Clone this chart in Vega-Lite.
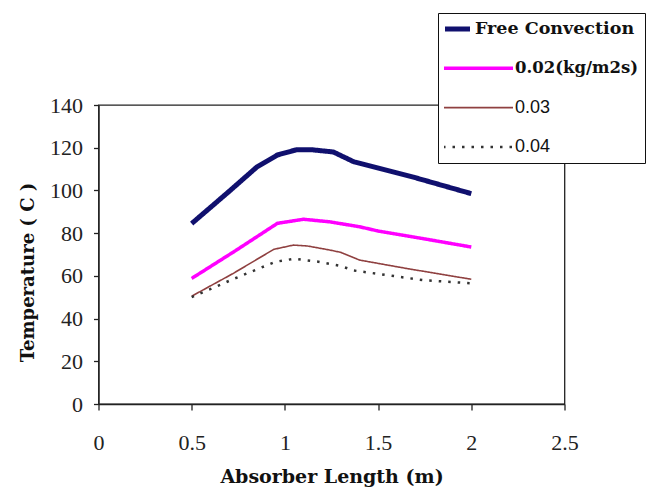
{
  "$schema": "https://vega.github.io/schema/vega-lite/v6.json",
  "width": 466,
  "height": 299,
  "autosize": "none",
  "padding": {"left": 98.5, "top": 105, "right": 85.5, "bottom": 85},
  "background": "white",
  "config": {
    "view": {"stroke": "#222", "strokeWidth": 1.3},
    "axis": {
      "grid": false,
      "domainColor": "#222",
      "domainWidth": 1.3,
      "tickColor": "#222",
      "tickWidth": 1.3,
      "labelFont": "Liberation Serif, Times New Roman, serif",
      "labelFontSize": 22,
      "labelColor": "#222",
      "titleFont": "DejaVu Serif",
      "titleFontWeight": "bold",
      "titleColor": "#111"
    }
  },
  "data": {
    "values": [
      {"series": "Free Convection", "length": 0.5, "temp": 84.5},
      {"series": "Free Convection", "length": 0.7, "temp": 99.5},
      {"series": "Free Convection", "length": 0.85, "temp": 111},
      {"series": "Free Convection", "length": 0.96, "temp": 116.6},
      {"series": "Free Convection", "length": 1.06, "temp": 119},
      {"series": "Free Convection", "length": 1.15, "temp": 119},
      {"series": "Free Convection", "length": 1.26, "temp": 118},
      {"series": "Free Convection", "length": 1.37, "temp": 113.4},
      {"series": "Free Convection", "length": 1.69, "temp": 106.2},
      {"series": "Free Convection", "length": 2.0, "temp": 98.5},
      {"series": "0.02(kg/m2s)", "length": 0.5, "temp": 58.8},
      {"series": "0.02(kg/m2s)", "length": 0.73, "temp": 71.5},
      {"series": "0.02(kg/m2s)", "length": 0.96, "temp": 84.6},
      {"series": "0.02(kg/m2s)", "length": 1.1, "temp": 86.5},
      {"series": "0.02(kg/m2s)", "length": 1.24, "temp": 85.3},
      {"series": "0.02(kg/m2s)", "length": 1.4, "temp": 83},
      {"series": "0.02(kg/m2s)", "length": 1.5, "temp": 81},
      {"series": "0.02(kg/m2s)", "length": 1.75, "temp": 77.3},
      {"series": "0.02(kg/m2s)", "length": 2.0, "temp": 73.5},
      {"series": "0.03", "length": 0.5, "temp": 50.5},
      {"series": "0.03", "length": 0.72, "temp": 61},
      {"series": "0.03", "length": 0.94, "temp": 72.4},
      {"series": "0.03", "length": 1.045, "temp": 74.4},
      {"series": "0.03", "length": 1.12, "temp": 74},
      {"series": "0.03", "length": 1.24, "temp": 72.1},
      {"series": "0.03", "length": 1.3, "temp": 71},
      {"series": "0.03", "length": 1.4, "temp": 67.4},
      {"series": "0.03", "length": 1.65, "temp": 63.5},
      {"series": "0.03", "length": 2.0, "temp": 58.4},
      {"series": "0.04", "length": 0.5, "temp": 50},
      {"series": "0.04", "length": 0.72, "temp": 58.4},
      {"series": "0.04", "length": 0.95, "temp": 66.6},
      {"series": "0.04", "length": 1.05, "temp": 68},
      {"series": "0.04", "length": 1.18, "temp": 66.6},
      {"series": "0.04", "length": 1.3, "temp": 64.6},
      {"series": "0.04", "length": 1.37, "temp": 62.5},
      {"series": "0.04", "length": 1.47, "temp": 61.3},
      {"series": "0.04", "length": 1.74, "temp": 58},
      {"series": "0.04", "length": 2.0, "temp": 56.5}
    ]
  },
  "mark": {"type": "line", "strokeCap": "butt", "strokeJoin": "round"},
  "encoding": {
    "x": {
      "field": "length",
      "type": "quantitative",
      "scale": {"domain": [0, 2.5], "nice": false},
      "axis": {
        "values": [0, 0.5, 1, 1.5, 2, 2.5],
        "format": "~g",
        "title": "Absorber Length (m)",
        "titleFontSize": 19,
        "labelFlush": false,
        "tickSize": 6,
        "labelPadding": 22,
        "titleY": 78,
        "titleBaseline": "alphabetic"
      }
    },
    "y": {
      "field": "temp",
      "type": "quantitative",
      "scale": {"domain": [0, 140], "nice": false},
      "axis": {
        "values": [0, 20, 40, 60, 80, 100, 120, 140],
        "title": "Temperature ( C )",
        "titleFontSize": 18,
        "tickSize": 5,
        "labelPadding": 11,
        "titleX": -65.5,
        "titleY": 167,
        "titleBaseline": "alphabetic"
      }
    },
    "color": {
      "field": "series",
      "type": "nominal",
      "scale": {
        "domain": ["Free Convection", "0.02(kg/m2s)", "0.03", "0.04"],
        "range": ["#10106e", "#ff00ff", "#8f4040", "#333333"]
      },
      "legend": {
        "title": null,
        "orient": "none",
        "legendX": 339.5,
        "legendY": -92,
        "direction": "vertical",
        "symbolType": "stroke",
        "clipHeight": 20,
        "rowPadding": 19.3,
        "padding": 6,
        "strokeColor": "#111",
        "fillColor": "white",
        "labelFont": "DejaVu Serif",
        "labelFontSize": 17,
        "labelColor": "#111",
        "labelLimit": 300,
        "encode": {
          "symbols": {
            "update": {
              "size": {"signal": "datum.label === 'Free Convection' ? 625 : 4900"},
              "x": {"signal": "datum.label === 'Free Convection' ? 13.5 : 34"},
              "strokeWidth": {"signal": "datum.label === 'Free Convection' ? 5 : (datum.label === '0.02(kg/m2s)' ? 3.5 : (datum.label === '0.03' ? 1.6 : 2.5))"},
              "strokeDash": {"signal": "datum.label === '0.04' ? [2.5, 7] : [1, 0]"},
              "opacity": {"value": 1}
            }
          },
          "labels": {
            "update": {
              "x": {"signal": "datum.label === 'Free Convection' ? 31 : 71"},
              "font": {"signal": "(datum.label === '0.03' || datum.label === '0.04') ? 'Liberation Sans, Arial, sans-serif' : 'DejaVu Serif'"},
              "fontWeight": {"signal": "(datum.label === '0.03' || datum.label === '0.04') ? 'normal' : 'bold'"},
              "fontSize": {"signal": "datum.label === '0.02(kg/m2s)' ? 16.5 : (datum.label === 'Free Convection' ? 17.5 : 18)"}
            }
          }
        }
      }
    },
    "strokeDash": {
      "field": "series",
      "type": "nominal",
      "scale": {
        "domain": ["Free Convection", "0.02(kg/m2s)", "0.03", "0.04"],
        "range": [[1, 0], [1, 0], [1, 0], [2.5, 7]]
      },
      "legend": null
    },
    "strokeWidth": {
      "field": "series",
      "type": "nominal",
      "scale": {
        "type": "ordinal",
        "domain": ["Free Convection", "0.02(kg/m2s)", "0.03", "0.04"],
        "range": [5, 3.5, 1.6, 2.5]
      },
      "legend": null
    }
  }
}
